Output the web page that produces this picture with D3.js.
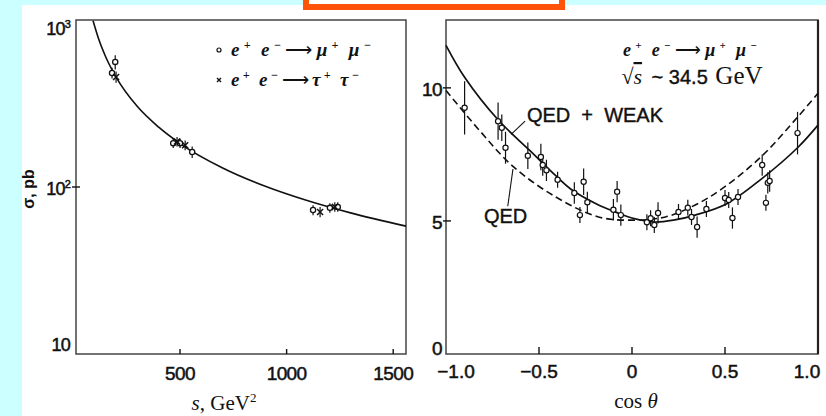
<!DOCTYPE html>
<html>
<head>
<meta charset="utf-8">
<script src="https://cdn.jsdelivr.net/npm/d3@7"></script>
<style>
body { margin: 0; background: #ccffff; }
svg { display: block; }
</style>
</head>
<body>
<div id="chart"></div>
<script>
// left panel: sigma(e+e- -> mu+mu-, tau+tau-) vs s
const muS = [181, 196, 468, 500, 557, 1124, 1203, 1240];
const muSig = [482, 561, 183, 183, 162, 72.8, 75, 76];
const muErr = [35, 55, 12, 12, 13, 5, 5, 5];
const tauS = [200, 486, 524, 1157, 1226];
const tauSig = [456, 187, 178, 70.8, 76];
const tauErr = [35, 12, 12, 5, 5];
const curveS = [92, 120, 150, 200, 300, 400, 500, 700, 900, 1100, 1300, 1560];
const curveSig = [990, 758, 607, 455, 303, 228, 182, 130, 101, 82.7, 70, 58.3];
const sTicks = [500, 1000, 1500];
const sigTicks = [10, 100, 1000];

// right panel: angular distribution at sqrt(s) ~ 34.5 GeV
const angCos = [-0.90, -0.72, -0.70, -0.68, -0.56, -0.49, -0.48, -0.46, -0.40, -0.31, -0.26, -0.24, -0.28,
  -0.08, -0.10, -0.06, 0.08, 0.10, 0.12, 0.14, 0.25, 0.30, 0.32, 0.35, 0.40, 0.50, 0.52, 0.57, 0.54,
  0.70, 0.73, 0.74, 0.72, 0.89];
const angVal = [9.25, 8.75, 8.5, 7.75, 7.45, 7.4, 7.1, 6.9, 6.55, 6.05, 6.47, 5.7, 5.22,
  6.1, 5.42, 5.22, 4.95, 5.1, 4.85, 5.3, 5.34, 5.5, 5.15, 4.77, 5.45, 5.86, 5.79, 5.9, 5.11,
  7.1, 6.43, 6.5, 5.68, 8.3];
const angErr = [1.0, 0.7, 0.5, 0.6, 0.5, 0.5, 0.4, 0.4, 0.3, 0.4, 0.5, 0.4, 0.3,
  0.4, 0.4, 0.4, 0.3, 0.3, 0.3, 0.4, 0.3, 0.3, 0.3, 0.4, 0.3, 0.3, 0.3, 0.3, 0.4,
  0.4, 0.4, 0.4, 0.3, 0.8];
const qedCos = [-1, -0.82, -0.64, -0.41, -0.18, 0, 0.18, 0.34, 0.49, 0.70, 0.89, 1.0];
const qedVal = [9.9, 8.4, 7.05, 5.9, 5.15, 5.03, 5.15, 5.6, 6.24, 7.45, 8.9, 9.8];
const weakCos = [-1, -0.9, -0.72, -0.55, -0.41, -0.33, -0.18, -0.09, 0, 0.12, 0.23, 0.34, 0.51, 0.70, 0.89, 1.0];
const weakVal = [11.6, 10.4, 8.8, 7.65, 6.7, 6.2, 5.6, 5.34, 5.11, 4.96, 5.04, 5.22, 5.65, 6.6, 7.75, 8.6];
const cosTicks = [-1, -0.5, 0, 0.5, 1];
const valTicks = [0, 5, 10];

const width = 826, height = 416;
const ink = '#111';
const sans = '"Liberation Sans", Arial, sans-serif';
const serif = '"Liberation Serif", "Times New Roman", serif';

const svg = d3.select('#chart').append('svg')
    .attr('width', width)
    .attr('height', height);

svg.append('rect').attr('width', width).attr('height', height).attr('fill', '#ccffff');
svg.append('rect').attr('x', 22).attr('y', 5).attr('width', width - 22).attr('height', height - 5).attr('fill', '#fff');
svg.append('rect').attr('x', 306).attr('y', -10).attr('width', 256).attr('height', 17)
    .attr('fill', '#fff').attr('stroke', '#ff5309').attr('stroke-width', 6);

// writes e+ e- -> l+ l- into a text element
function reaction(t, lep, sup) {
    t.append('tspan').text('e');
    t.append('tspan').attr('dy', -7).attr('font-size', sup).text('+');
    t.append('tspan').attr('dy', 7).attr('dx', 6).text('e');
    t.append('tspan').attr('dy', -7).attr('font-size', sup).text('−');
    t.append('tspan').attr('dy', 7).attr('font-style', 'normal').attr('font-weight', 'normal').text('⟶');
    t.append('tspan').text(lep);
    t.append('tspan').attr('dy', -7).attr('font-size', sup).text('+');
    t.append('tspan').attr('dy', 7).attr('dx', 6).text(lep);
    t.append('tspan').attr('dy', -7).attr('font-size', sup).text('−');
}

// ---------- left panel ----------
const L = { left: 76, right: 406, top: 20, bottom: 354 };
const xL = d3.scaleLinear().domain([12, 1560]).range([L.left, L.right]);
const yL = d3.scaleLog().domain([10, 1000]).range([L.bottom, L.top]);

const gL = svg.append('g');
gL.append('rect')
    .attr('x', L.left).attr('y', L.top)
    .attr('width', L.right - L.left).attr('height', L.bottom - L.top)
    .attr('fill', 'none').attr('stroke', '#444').attr('stroke-width', 1.5);

gL.selectAll('.xtick').data(sTicks).enter().append('line')
    .attr('x1', d => xL(d)).attr('x2', d => xL(d))
    .attr('y1', L.bottom).attr('y2', L.bottom - 5)
    .attr('stroke', ink).attr('stroke-width', 1.4);
gL.selectAll('.xlab').data(sTicks).enter().append('text')
    .attr('x', d => xL(d)).attr('y', 380)
    .attr('text-anchor', 'middle')
    .attr('font-family', sans).attr('font-size', 19)
    .attr('letter-spacing', -0.6)
    .attr('fill', ink).attr('stroke', ink).attr('stroke-width', 0.5)
    .text(d => d);

gL.append('line')
    .attr('x1', L.left - 4).attr('x2', L.left + 4)
    .attr('y1', yL(100)).attr('y2', yL(100))
    .attr('stroke', ink).attr('stroke-width', 1.4);

const ylab = gL.selectAll('.ylab').data(sigTicks).enter().append('text')
    .attr('x', 70)
    .attr('y', d => Math.max(29, Math.min(345, yL(d) + 2)))
    .attr('dy', '0.36em')
    .attr('text-anchor', 'end')
    .attr('font-family', sans).attr('font-size', 18)
    .attr('letter-spacing', -0.8)
    .attr('fill', ink).attr('stroke', ink).attr('stroke-width', 0.5);
ylab.append('tspan').text('10');
ylab.filter(d => d > 10).append('tspan')
    .attr('dy', -7).attr('font-size', 11)
    .text(d => Math.round(Math.log10(d)));

gL.append('text')
    .attr('transform', 'translate(34,189) rotate(-90)')
    .attr('text-anchor', 'middle')
    .attr('font-family', sans).attr('font-size', 16).attr('font-weight', 'bold')
    .attr('fill', ink)
    .text('σ, pb');

const xTitleL = gL.append('text')
    .attr('x', 224).attr('y', 410)
    .attr('text-anchor', 'middle')
    .attr('font-family', serif).attr('font-size', 21)
    .attr('fill', ink);
xTitleL.append('tspan').attr('font-style', 'italic').text('s');
xTitleL.append('tspan').text(', GeV');
xTitleL.append('tspan').attr('dy', -8).attr('font-size', 13).text('2');

const lineL = d3.line()
    .x(d => xL(d[0])).y(d => yL(d[1]))
    .curve(d3.curveMonotoneX);
gL.append('path')
    .datum(d3.zip(curveS, curveSig))
    .attr('d', lineL)
    .attr('fill', 'none').attr('stroke', ink).attr('stroke-width', 1.6);

const mu = d3.zip(muS, muSig, muErr);
gL.selectAll('.muerr').data(mu).enter().append('line')
    .attr('x1', d => xL(d[0])).attr('x2', d => xL(d[0]))
    .attr('y1', d => yL(d[1] - d[2])).attr('y2', d => yL(d[1] + d[2]))
    .attr('stroke', ink).attr('stroke-width', 1.2);
gL.selectAll('.mu').data(mu).enter().append('circle')
    .attr('cx', d => xL(d[0])).attr('cy', d => yL(d[1]))
    .attr('r', 2.6)
    .attr('fill', '#fff').attr('stroke', ink).attr('stroke-width', 1.3);

const tau = d3.zip(tauS, tauSig, tauErr);
gL.selectAll('.tauerr').data(tau).enter().append('line')
    .attr('x1', d => xL(d[0])).attr('x2', d => xL(d[0]))
    .attr('y1', d => yL(d[1] - d[2])).attr('y2', d => yL(d[1] + d[2]))
    .attr('stroke', ink).attr('stroke-width', 1.2);
gL.selectAll('.tau').data(tau).enter().append('path')
    .attr('transform', d => `translate(${xL(d[0])},${yL(d[1])})`)
    .attr('d', 'M-3,-3L3,3M-3,3L3,-3')
    .attr('stroke', ink).attr('stroke-width', 1.5);

// legend
const legend = [
    { y: 56, mark: 'mu', lep: 'μ' },
    { y: 86, mark: 'tau', lep: 'τ' }
];
legend.forEach(l => {
    if (l.mark === 'mu') {
        gL.append('circle').attr('cx', 219).attr('cy', l.y - 6).attr('r', 2)
            .attr('fill', '#fff').attr('stroke', ink).attr('stroke-width', 1.2);
    } else {
        gL.append('path').attr('transform', `translate(219,${l.y - 6})`)
            .attr('d', 'M-2,-2L2,2M-2,2L2,-2').attr('stroke', ink).attr('stroke-width', 1.4);
    }
    const t = gL.append('text')
        .attr('x', 231).attr('y', l.y)
        .attr('font-family', serif).attr('font-size', 19)
        .attr('font-style', 'italic').attr('font-weight', 'bold')
        .attr('textLength', l.mark === 'mu' ? 140 : 128).attr('lengthAdjust', 'spacing')
        .attr('fill', ink);
    reaction(t, l.lep, 12);
});

// ---------- right panel ----------
const R = { left: 446, right: 818, top: 20, bottom: 354 };
const xR = d3.scaleLinear().domain([-1, 1]).range([R.left, R.right]);
const yR = d3.scaleLinear().domain([0, 12.55]).range([R.bottom, R.top]);

const gR = svg.append('g');
gR.append('rect')
    .attr('x', R.left).attr('y', R.top)
    .attr('width', R.right - R.left).attr('height', R.bottom - R.top)
    .attr('fill', 'none').attr('stroke', '#444').attr('stroke-width', 1.5);
gR.append('line')
    .attr('x1', R.right).attr('x2', R.right).attr('y1', R.top).attr('y2', R.bottom)
    .attr('stroke', '#222').attr('stroke-width', 2.2);

gR.selectAll('.xtick').data(cosTicks.slice(1, -1)).enter().append('line')
    .attr('x1', d => xR(d)).attr('x2', d => xR(d))
    .attr('y1', R.bottom).attr('y2', R.bottom - 7)
    .attr('stroke', ink).attr('stroke-width', 1.4);
gR.selectAll('.xlab').data(cosTicks).enter().append('text')
    .attr('x', d => xR(d) + (d === -1 ? 10 : d === 1 ? -11 : 0))
    .attr('y', 378)
    .attr('text-anchor', 'middle')
    .attr('font-family', sans).attr('font-size', 19)
    .attr('fill', ink).attr('stroke', ink).attr('stroke-width', 0.5)
    .text(d => d === 0 ? '0' : d3.format('.1f')(d).replace('-', '–'));

gR.selectAll('.ytick').data(valTicks.slice(1)).enter().append('line')
    .attr('x1', R.left - 3).attr('x2', R.left + 5)
    .attr('y1', d => yR(d)).attr('y2', d => yR(d))
    .attr('stroke', ink).attr('stroke-width', 1.4);
gR.selectAll('.ylab').data(valTicks).enter().append('text')
    .attr('x', 442)
    .attr('y', d => Math.min(347, yR(d)) + 1)
    .attr('dy', '0.36em')
    .attr('text-anchor', 'end')
    .attr('font-family', sans).attr('font-size', 19)
    .attr('letter-spacing', -0.6)
    .attr('fill', ink).attr('stroke', ink).attr('stroke-width', 0.5)
    .text(d => d);

const xTitleR = gR.append('text')
    .attr('x', 636).attr('y', 408)
    .attr('text-anchor', 'middle')
    .attr('font-family', serif).attr('font-size', 21)
    .attr('fill', ink);
xTitleR.append('tspan').text('cos ');
xTitleR.append('tspan').attr('font-style', 'italic').text('θ');

const lineR = d3.line()
    .x(d => xR(d[0])).y(d => yR(d[1]))
    .curve(d3.curveCatmullRom);
gR.append('path')
    .datum(d3.zip(qedCos, qedVal))
    .attr('d', lineR)
    .attr('fill', 'none').attr('stroke', ink).attr('stroke-width', 1.6)
    .attr('stroke-dasharray', '7,4');
gR.append('path')
    .datum(d3.zip(weakCos, weakVal))
    .attr('d', lineR)
    .attr('fill', 'none').attr('stroke', ink).attr('stroke-width', 1.7);

const ang = d3.zip(angCos, angVal, angErr);
gR.selectAll('.err').data(ang).enter().append('line')
    .attr('x1', d => xR(d[0])).attr('x2', d => xR(d[0]))
    .attr('y1', d => yR(d[1] - d[2])).attr('y2', d => yR(d[1] + d[2]))
    .attr('stroke', ink).attr('stroke-width', 1.2);
gR.selectAll('.pt').data(ang).enter().append('circle')
    .attr('cx', d => xR(d[0])).attr('cy', d => yR(d[1]))
    .attr('r', 2.6)
    .attr('fill', '#fff').attr('stroke', ink).attr('stroke-width', 1.2);

// curve labels with leader lines
gR.append('line')
    .attr('x1', xR(-0.65)).attr('y1', yR(8.25))
    .attr('x2', xR(-0.575)).attr('y2', yR(8.75))
    .attr('stroke', ink).attr('stroke-width', 1.1);
gR.append('text')
    .attr('x', xR(-0.565)).attr('y', yR(8.72))
    .attr('font-family', sans).attr('font-size', 20)
    .attr('fill', ink).attr('stroke', ink).attr('stroke-width', 0.4)
    .attr('xml:space', 'preserve')
    .text('QED  +  WEAK');
gR.append('line')
    .attr('x1', xR(-0.668)).attr('y1', yR(5.55))
    .attr('x2', xR(-0.64)).attr('y2', yR(6.95))
    .attr('stroke', ink).attr('stroke-width', 1.1);
gR.append('text')
    .attr('x', xR(-0.796)).attr('y', yR(4.92))
    .attr('font-family', sans).attr('font-size', 20)
    .attr('fill', ink).attr('stroke', ink).attr('stroke-width', 0.4)
    .text('QED');

// process annotation
const proc = gR.append('text')
    .attr('x', 623).attr('y', 56)
    .attr('font-family', serif).attr('font-size', 18)
    .attr('font-style', 'italic').attr('font-weight', 'bold')
    .attr('textLength', 134).attr('lengthAdjust', 'spacing')
    .attr('fill', ink);
reaction(proc, 'μ', 11);

const energy = gR.append('text')
    .attr('x', 692).attr('y', 84)
    .attr('text-anchor', 'middle')
    .attr('xml:space', 'preserve')
    .attr('fill', ink);
energy.append('tspan').attr('font-family', serif).attr('font-size', 22).text('√');
energy.append('tspan').attr('font-family', serif).attr('font-size', 22)
    .attr('font-style', 'italic').attr('text-decoration', 'overline').text('s');
energy.append('tspan').attr('dx', 4).attr('font-family', sans).attr('font-size', 20)
    .attr('stroke', ink).attr('stroke-width', 0.4).text(' ~ 34.5 ');
energy.append('tspan').attr('dx', 2).attr('font-family', serif).attr('font-size', 25).text('GeV');
</script>
</body>
</html>
